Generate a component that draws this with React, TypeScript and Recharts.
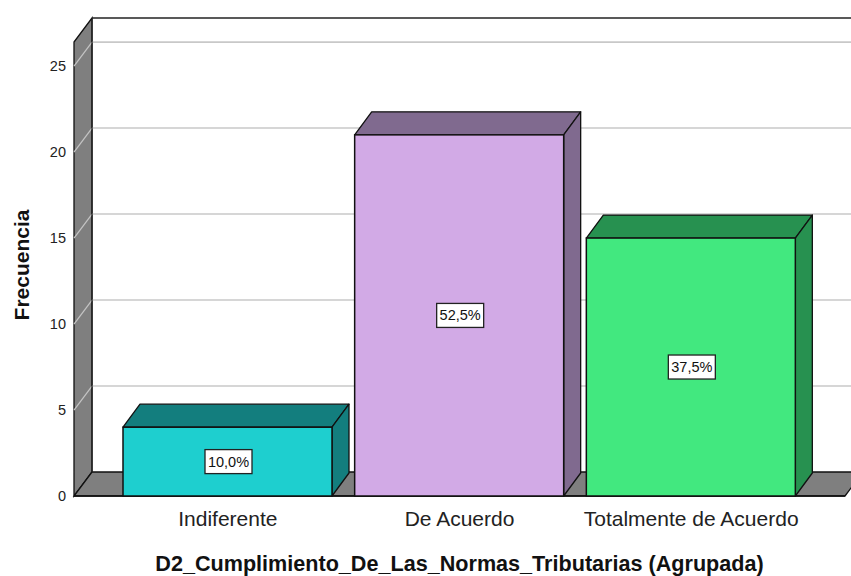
import React from 'react';
import { BarChart, Bar, XAxis, YAxis, ReferenceArea, LabelList, Label } from 'recharts';

const categories = ['Indiferente', 'De Acuerdo', 'Totalmente de Acuerdo'];
const frequencies = [4, 21, 15];
const yTicks = [0, 5, 10, 15, 20, 25];
const Y_MAX = 26.4;
const frontColors = ['#1ecfcf', '#d2aae6', '#42e87f'];
const shadeColors = ['#137e7e', '#806a8f', '#279150'];

const total = frequencies.reduce((a, b) => a + b, 0);
const data = categories.map((name, i) => ({ name, value: frequencies[i] }));

const FONT = '"Liberation Sans", Arial, sans-serif';
const WALL_DX = 18;
const WALL_DY = -24;
const BAR_DX = 17;
const BAR_DY = -23;

const Walls = (props: any) => {
  const { x, y, width, height } = props;
  const left = x;
  const right = x + width;
  const top = y;
  const bottom = y + height;
  const grid = yTicks.filter((t) => t > 0).map((t) => bottom - (t / Y_MAX) * height);
  return (
    <g>
      <polygon
        points={`${left},${bottom} ${left},${top} ${left + WALL_DX},${top + WALL_DY} ${left + WALL_DX},${bottom + WALL_DY}`}
        fill="#7f7f7f"
        stroke="#111"
        strokeWidth={1.3}
      />
      <polygon
        points={`${left},${bottom} ${right},${bottom} ${right + WALL_DX},${bottom + WALL_DY} ${left + WALL_DX},${bottom + WALL_DY}`}
        fill="#7f7f7f"
        stroke="#111"
        strokeWidth={1.3}
      />
      {grid.map((gy, i) => (
        <g key={i}>
          <line x1={left} y1={gy} x2={left + WALL_DX} y2={gy + WALL_DY} stroke="#c4c4c4" strokeWidth={1.3} />
          <line x1={left + WALL_DX} y1={gy + WALL_DY} x2={right + WALL_DX + 20} y2={gy + WALL_DY} stroke="#c8c8c8" strokeWidth={1.6} />
        </g>
      ))}
      <line x1={left + WALL_DX} y1={top + WALL_DY} x2={right + WALL_DX + 20} y2={top + WALL_DY} stroke="#222" strokeWidth={1.6} />
      <line x1={left + WALL_DX} y1={top + WALL_DY} x2={left + WALL_DX} y2={bottom + WALL_DY} stroke="#222" strokeWidth={1.3} />
      <line x1={left} y1={bottom} x2={right} y2={bottom} stroke="#111" strokeWidth={1.6} />
    </g>
  );
};

const Bar3D = (props: any) => {
  const { x, y, width, height, index } = props;
  if (height <= 0) return null;
  const front = frontColors[index % frontColors.length];
  const shade = shadeColors[index % shadeColors.length];
  const r = x + width;
  const b = y + height;
  return (
    <g>
      <polygon
        points={`${x},${y} ${x + BAR_DX},${y + BAR_DY} ${r + BAR_DX},${y + BAR_DY} ${r},${y}`}
        fill={shade}
        stroke="#111"
        strokeWidth={1.3}
        strokeLinejoin="round"
      />
      <polygon
        points={`${r},${y} ${r + BAR_DX},${y + BAR_DY} ${r + BAR_DX},${b + BAR_DY} ${r},${b}`}
        fill={shade}
        stroke="#111"
        strokeWidth={1.3}
        strokeLinejoin="round"
      />
      <rect x={x} y={y} width={width} height={height} fill={front} stroke="#111" strokeWidth={1.5} />
    </g>
  );
};

const PercentLabel = (props: any) => {
  const { x, y, width, height, value } = props;
  const cx = x + width / 2 + 1;
  const cy = y + height / 2;
  const pct = ((Number(value) / total) * 100).toFixed(1).replace('.', ',') + '%';
  const w = 47;
  const h = 24;
  return (
    <g>
      <rect x={cx - w / 2} y={cy - h / 2} width={w} height={h} fill="#fff" stroke="#222" strokeWidth={1.3} />
      <text x={cx} y={cy} textAnchor="middle" dominantBaseline="central" fontSize={14.5} fontFamily={FONT} fill="#111">
        {pct}
      </text>
    </g>
  );
};

export default function App() {
  return (
    <div style={{ position: 'absolute', left: 0, top: 0, width: 851, height: 576, background: '#fff' }}>
      <BarChart
        width={851}
        height={576}
        data={data}
        margin={{ top: 42, right: 6, left: 0, bottom: 50 }}
        style={{ fontFamily: FONT }}
      >
        <XAxis xAxisId="wall" type="number" domain={[0, 1]} allowDataOverflow hide />
        <XAxis
          dataKey="name"
          type="category"
          padding={{ left: 38, right: 38 }}
          axisLine={false}
          tickLine={false}
          tickMargin={9}
          height={30}
          tick={{ fontSize: 21, fill: '#222', fontFamily: FONT }}
          interval={0}
        >
          <Label
            value="D2_Cumplimiento_De_Las_Normas_Tributarias (Agrupada)"
            position="bottom"
            offset={30}
            style={{ fontSize: 21.6, fontWeight: 'bold', fill: '#111', fontFamily: FONT }}
          />
        </XAxis>
        <YAxis
          type="number"
          domain={[0, Y_MAX]}
          ticks={yTicks}
          width={74}
          axisLine={false}
          tickLine={false}
          tick={{ fontSize: 14.5, fill: '#222', fontFamily: FONT }}
          label={{
            content: (p: any) => {
              const vb = p.viewBox || { x: 0, y: 42, width: 74, height: 454 };
              const cx = vb.x + 29;
              const cy = vb.y + vb.height / 2 - 4;
              return (
                <text
                  x={cx}
                  y={cy}
                  transform={`rotate(-90 ${cx} ${cy})`}
                  textAnchor="middle"
                  fontSize={21}
                  fontWeight="bold"
                  fill="#111"
                  fontFamily={FONT}
                >
                  Frecuencia
                </text>
              );
            },
          }}
        />
        <ReferenceArea xAxisId="wall" y1={0} y2={Y_MAX} shape={<Walls />} ifOverflow="visible" />
        <Bar dataKey="value" barSize={209} shape={<Bar3D />} isAnimationActive={false}>
          <LabelList dataKey="value" content={<PercentLabel />} />
        </Bar>
      </BarChart>
    </div>
  );
}
